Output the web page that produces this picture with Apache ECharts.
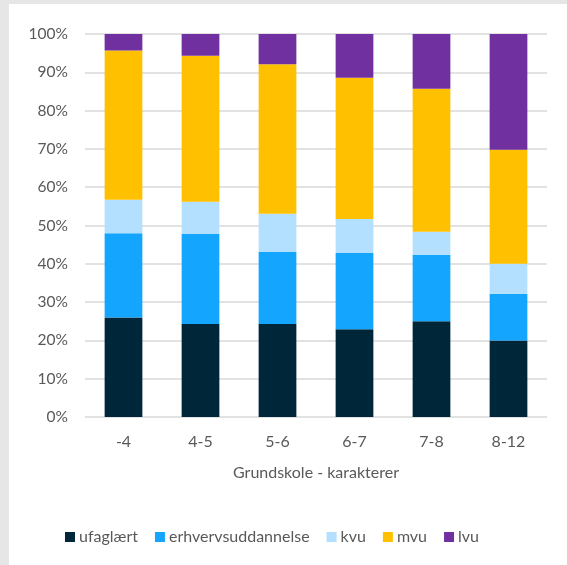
<!DOCTYPE html>
<html>
<head>
<meta charset="utf-8">
<script src="https://cdn.jsdelivr.net/npm/echarts@6/dist/echarts.min.js"></script>
<style>
html, body { margin: 0; padding: 0; background: #e6e6e6; width: 567px; height: 565px; overflow: hidden; }
#main { position: absolute; left: 9px; top: 4px; width: 558px; height: 561px; background: #ffffff; }
</style>
</head>
<body>
<div id="main"></div>
<script>
const categories = ['-4', '4-5', '5-6', '6-7', '7-8', '8-12'];
const seriesNames = ['ufaglært', 'erhvervsuddannelse', 'kvu', 'mvu', 'lvu'];
const ufaglaert = [26.0, 24.3, 24.3, 22.9, 25.0, 20.0];
const erhvervsuddannelse = [22.0, 23.5, 18.8, 19.9, 17.3, 12.2];
const kvu = [8.7, 8.4, 10.0, 8.9, 6.1, 7.8];
const mvu = [39.0, 38.1, 39.0, 36.9, 37.3, 29.8];
const lvu = [4.3, 5.7, 7.9, 11.4, 14.3, 30.2];
const yTicks = [0, 10, 20, 30, 40, 50, 60, 70, 80, 90, 100];
const colors = ['#00263a', '#14a5ff', '#b3e0ff', '#ffc000', '#7030a0'];

const values = [ufaglaert, erhvervsuddannelse, kvu, mvu, lvu];
const fontFamily = 'Lato, "Open Sans", sans-serif';

const chart = echarts.init(document.getElementById('main'), null, { renderer: 'canvas' });
chart.setOption({
  animation: false,
  color: colors,
  textStyle: { fontFamily: fontFamily },
  grid: { left: 76, right: 20, top: 30, bottom: 148 },
  legend: {
    bottom: 15,
    left: 51,
    itemWidth: 10,
    itemHeight: 10,
    itemGap: 17,
    icon: 'rect',
    textStyle: { color: '#595959', fontSize: 16, fontFamily: fontFamily, padding: [0, 0, 0, -1] },
    data: seriesNames
  },
  xAxis: {
    type: 'category',
    data: categories,
    name: 'Grundskole - karakterer',
    nameLocation: 'middle',
    nameGap: 48,
    nameTextStyle: { color: '#595959', fontSize: 16, fontFamily: fontFamily },
    axisLine: { show: false },
    axisTick: { show: false },
    axisLabel: { color: '#595959', fontSize: 16, margin: 17, fontFamily: fontFamily }
  },
  yAxis: {
    type: 'value',
    min: yTicks[0],
    max: yTicks[yTicks.length - 1],
    interval: 10,
    axisLine: { show: false },
    axisTick: { show: false },
    axisLabel: { color: '#595959', fontSize: 15.5, margin: 17, formatter: '{value}%', fontFamily: fontFamily },
    splitLine: { lineStyle: { color: '#d9d9d9', width: 1.5 } }
  },
  series: seriesNames.map((name, i) => ({
    name: name,
    type: 'bar',
    stack: 'total',
    barWidth: '49%',
    data: values[i],
    itemStyle: { color: colors[i] }
  }))
});
</script>
</body>
</html>
